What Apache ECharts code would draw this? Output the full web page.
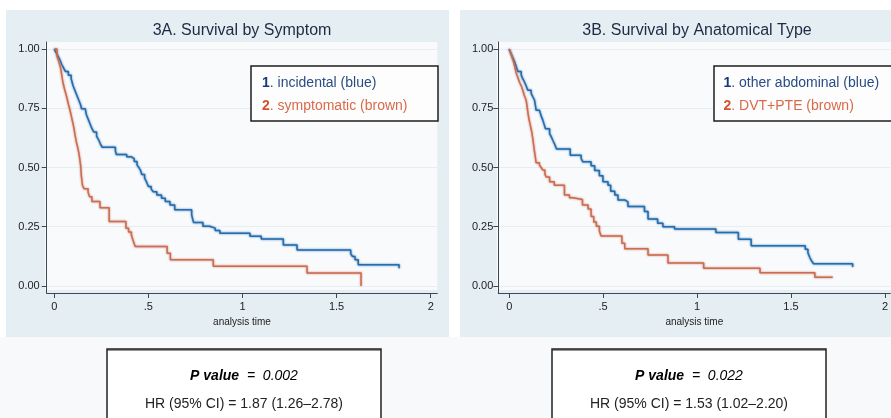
<!DOCTYPE html>
<html>
<head>
<meta charset="utf-8">
<script src="https://cdn.jsdelivr.net/npm/echarts/dist/echarts.min.js"></script>
<style>html,body{margin:0;padding:0;background:#ffffff;}#c{width:891px;height:418px;}</style>
</head>
<body>
<div id="c"></div>
<script>
// ---- tick values / labels ----
const xTicks = [0, 0.5, 1, 1.5, 2];
const xTickLabels = ['0', '.5', '1', '1.5', '2'];
const yTicks = [0, 0.25, 0.5, 0.75, 1];
const yTickLabels = ['0.00', '0.25', '0.50', '0.75', '1.00'];

// ---- texts ----
const titleA = '3A. Survival by Symptom';
const titleB = '3B. Survival by Anatomical Type';
const legendA = ['incidental (blue)', 'symptomatic (brown)'];
const legendB = ['other abdominal (blue)', 'DVT+PTE (brown)'];
const xName = 'analysis time';
const pValueA = '0.002';
const hrA = 'HR (95% CI) = 1.87 (1.26\u20132.78)';
const pValueB = '0.022';
const hrB = 'HR (95% CI) = 1.53 (1.02\u20132.20)';

// ---- Kaplan-Meier steps [time, survival] ----
const survA_incidental = [[0,1],[0.01,0.985],[0.02,0.97],[0.03,0.955],[0.04,0.935],[0.05,0.92],[0.06,0.905],[0.075,0.89],[0.09,0.875],[0.095,0.86],[0.10,0.845],[0.11,0.825],[0.12,0.805],[0.13,0.785],[0.14,0.765],[0.145,0.748],[0.165,0.74],[0.17,0.725],[0.18,0.705],[0.19,0.685],[0.20,0.665],[0.21,0.65],[0.225,0.632],[0.235,0.618],[0.245,0.60],[0.255,0.585],[0.325,0.57],[0.33,0.555],[0.385,0.545],[0.41,0.537],[0.425,0.525],[0.44,0.51],[0.45,0.50],[0.46,0.485],[0.465,0.47],[0.48,0.455],[0.49,0.44],[0.50,0.42],[0.515,0.41],[0.525,0.398],[0.545,0.384],[0.57,0.37],[0.59,0.356],[0.615,0.342],[0.64,0.322],[0.73,0.30],[0.74,0.268],[0.79,0.252],[0.825,0.244],[0.855,0.234],[0.88,0.222],[1.04,0.21],[1.10,0.198],[1.217,0.173],[1.29,0.152],[1.575,0.135],[1.585,0.124],[1.598,0.11],[1.615,0.089],[1.832,0.089],[1.832,0.075]];
const survA_symptomatic = [[0,1],[0.015,0.97],[0.025,0.945],[0.034,0.92],[0.04,0.89],[0.046,0.86],[0.055,0.83],[0.064,0.805],[0.07,0.785],[0.076,0.765],[0.083,0.745],[0.09,0.72],[0.097,0.695],[0.105,0.665],[0.11,0.64],[0.117,0.61],[0.123,0.59],[0.13,0.565],[0.135,0.54],[0.14,0.51],[0.142,0.49],[0.144,0.465],[0.147,0.445],[0.15,0.425],[0.158,0.41],[0.18,0.395],[0.188,0.376],[0.2,0.356],[0.243,0.33],[0.292,0.272],[0.381,0.243],[0.395,0.228],[0.41,0.214],[0.42,0.19],[0.43,0.166],[0.6,0.138],[0.617,0.11],[0.845,0.083],[1.343,0.054],[1.63,0]];
const survB_abdominal = [[0,1],[0.01,0.98],[0.02,0.962],[0.029,0.946],[0.038,0.925],[0.046,0.905],[0.064,0.89],[0.072,0.875],[0.082,0.86],[0.09,0.845],[0.099,0.826],[0.117,0.812],[0.125,0.8],[0.135,0.784],[0.14,0.76],[0.143,0.742],[0.161,0.735],[0.17,0.718],[0.179,0.70],[0.186,0.682],[0.193,0.664],[0.215,0.643],[0.225,0.628],[0.232,0.615],[0.242,0.598],[0.252,0.578],[0.325,0.552],[0.383,0.538],[0.392,0.524],[0.436,0.507],[0.455,0.487],[0.48,0.465],[0.499,0.44],[0.526,0.425],[0.54,0.4],[0.562,0.384],[0.579,0.363],[0.615,0.355],[0.632,0.335],[0.72,0.314],[0.739,0.282],[0.79,0.265],[0.818,0.25],[0.88,0.24],[1.1,0.225],[1.22,0.197],[1.288,0.17],[1.576,0.155],[1.59,0.14],[1.6,0.12],[1.61,0.105],[1.62,0.093],[1.828,0.093],[1.828,0.08]];
const survB_dvtpte = [[0,1],[0.01,0.98],[0.02,0.955],[0.03,0.925],[0.037,0.9],[0.046,0.88],[0.055,0.86],[0.064,0.845],[0.073,0.825],[0.08,0.805],[0.09,0.785],[0.095,0.76],[0.099,0.735],[0.105,0.705],[0.112,0.68],[0.12,0.65],[0.126,0.62],[0.13,0.595],[0.135,0.566],[0.14,0.54],[0.143,0.52],[0.161,0.51],[0.17,0.5],[0.179,0.489],[0.19,0.472],[0.197,0.46],[0.215,0.44],[0.24,0.425],[0.294,0.384],[0.321,0.372],[0.34,0.365],[0.39,0.342],[0.42,0.325],[0.436,0.293],[0.45,0.27],[0.464,0.252],[0.48,0.232],[0.489,0.211],[0.6,0.18],[0.615,0.157],[0.739,0.131],[0.845,0.097],[1.035,0.075],[1.335,0.056],[1.627,0.037],[1.722,0.037]];

// ---- styling ----
const FONT = '"Liberation Sans", Arial, Helvetica, sans-serif';
const BLUE = '#2169ab';
const BROWN = '#c9694f';
const AXIS = '#3c4856';
const GRIDLINE = '#e6eef4';

function xAxisCfg(gi, min, max) {
  return {
    gridIndex: gi, type: 'value', min: min, max: max,
    name: xName, nameLocation: 'middle', nameGap: 20,
    nameTextStyle: { fontFamily: FONT, fontSize: 10, color: '#222' },
    axisLine: { show: true, onZero: false, lineStyle: { color: AXIS, width: 1 } },
    axisTick: { show: true, length: 5, customValues: xTicks, lineStyle: { color: AXIS } },
    axisLabel: { customValues: xTicks, margin: 8, fontFamily: FONT, fontSize: 11, color: '#222',
      formatter: v => xTickLabels[xTicks.indexOf(v)] },
    splitLine: { show: false }
  };
}
function yAxisCfg(gi, margin) {
  return {
    gridIndex: gi, type: 'value', min: -0.03, max: 1.03,
    axisLine: { show: true, onZero: false, lineStyle: { color: AXIS, width: 1 } },
    axisTick: { show: true, length: 5, customValues: yTicks, lineStyle: { color: AXIS } },
    axisLabel: { customValues: yTicks, margin: margin, fontFamily: FONT, fontSize: 11, color: '#222',
      formatter: v => yTickLabels[yTicks.indexOf(v)] },
    splitLine: { show: true, lineStyle: { color: GRIDLINE, width: 1 } }
  };
}
function kmSeries(gi, data, color) {
  return {
    type: 'line', xAxisIndex: gi, yAxisIndex: gi, step: 'end', data: data,
    showSymbol: false, symbol: 'none', animation: false, silent: true, z: 5,
    lineStyle: { color: color, width: 1.5, shadowColor: color, shadowBlur: 2, opacity: 0.95 }
  };
}
function legendText(x, y, num, text, numColor, txtColor) {
  return { type: 'text', x: x, y: y, z: 20,
    style: { text: '{n|' + num + '}{t|. ' + text + '}', textVerticalAlign: 'middle',
      rich: { n: { fontFamily: FONT, fontSize: 14, fontWeight: 'bold', fill: numColor, color: numColor },
              t: { fontFamily: FONT, fontSize: 14, fill: txtColor, color: txtColor } } } };
}
function pText(cx, y, pv) {
  return { type: 'text', x: cx, y: y, z: 20,
    style: { text: '{b|P value}{i|  =  ' + pv + '}', textAlign: 'center', textVerticalAlign: 'middle',
      rich: { b: { fontFamily: FONT, fontSize: 14, fontWeight: 'bold', fontStyle: 'italic', color: '#1a1a1a' },
              i: { fontFamily: FONT, fontSize: 14, fontStyle: 'italic', color: '#333' } } } };
}

const chart = echarts.init(document.getElementById('c'), null, { renderer: 'canvas' });
chart.setOption({
  backgroundColor: '#ffffff',
  animation: false,
  grid: [
    { left: 46.7, top: 42, width: 390.6, height: 251, containLabel: false },
    { left: 498.3, top: 42, width: 392.7, height: 251, containLabel: false }
  ],
  xAxis: [ xAxisCfg(0, -0.040, 2.035), xAxisCfg(1, -0.058, 2.0286) ],
  yAxis: [ yAxisCfg(0, 7), yAxisCfg(1, 5) ],
  series: [
    kmSeries(0, survA_incidental, BLUE),
    kmSeries(0, survA_symptomatic, BROWN),
    kmSeries(1, survB_abdominal, BLUE),
    kmSeries(1, survB_dvtpte, BROWN)
  ],
  graphic: { elements: [
    { type: 'rect', z: -10, shape: { x: 0, y: 337, width: 891, height: 81 }, style: { fill: '#f7f9fb' } },
    { type: 'rect', z: -9, shape: { x: 6, y: 10, width: 443, height: 327 }, style: { fill: '#e5eef2' } },
    { type: 'rect', z: -9, shape: { x: 460, y: 10, width: 440, height: 327 }, style: { fill: '#e5eef2' } },
    { type: 'rect', z: -8, shape: { x: 45, y: 42, width: 392.3, height: 248 }, style: { fill: '#f8fafc' } },
    { type: 'rect', z: -8, shape: { x: 496.7, y: 42, width: 400, height: 248 }, style: { fill: '#f8fafc' } },
    { type: 'text', x: 242, y: 31, z: 20, style: { text: titleA, textAlign: 'center', textVerticalAlign: 'middle', fontFamily: FONT, fontSize: 16, fill: '#1d2a44' } },
    { type: 'text', x: 697, y: 31, z: 20, style: { text: titleB, textAlign: 'center', textVerticalAlign: 'middle', fontFamily: FONT, fontSize: 16, fill: '#1d2a44' } },
    { type: 'rect', z: 15, shape: { x: 251, y: 66, width: 187, height: 55 }, style: { fill: '#fdfdfd', stroke: '#1e1e1e', lineWidth: 1.5 } },
    { type: 'rect', z: 15, shape: { x: 714, y: 66, width: 190, height: 55 }, style: { fill: '#fdfdfd', stroke: '#1e1e1e', lineWidth: 1.5 } },
    legendText(262, 83.5, '1', legendA[0], '#173a78', '#2a4c84'),
    legendText(262, 106, '2', legendA[1], '#d4532e', '#d86a4a'),
    legendText(723.5, 83.5, '1', legendB[0], '#173a78', '#2a4c84'),
    legendText(723.5, 106, '2', legendB[1], '#d4532e', '#d86a4a'),
    { type: 'rect', z: 15, shape: { x: 107, y: 349, width: 274, height: 80 }, style: { fill: '#ffffff', stroke: '#222', lineWidth: 1.5 } },
    { type: 'rect', z: 15, shape: { x: 552, y: 349, width: 274, height: 80 }, style: { fill: '#ffffff', stroke: '#222', lineWidth: 1.5 } },
    { type: 'line', z: 16, shape: { x1: 107, y1: 350, x2: 381, y2: 350 }, style: { stroke: '#2a2a2a', lineWidth: 1 } },
    { type: 'line', z: 16, shape: { x1: 552, y1: 350, x2: 826, y2: 350 }, style: { stroke: '#2a2a2a', lineWidth: 1 } },
    pText(244, 376, pValueA),
    { type: 'text', x: 244, y: 404, z: 20, style: { text: hrA, textAlign: 'center', textVerticalAlign: 'middle', fontFamily: FONT, fontSize: 14, fill: '#222' } },
    pText(689, 376, pValueB),
    { type: 'text', x: 689, y: 404, z: 20, style: { text: hrB, textAlign: 'center', textVerticalAlign: 'middle', fontFamily: FONT, fontSize: 14, fill: '#222' } }
  ] }
});
</script>
</body>
</html>
